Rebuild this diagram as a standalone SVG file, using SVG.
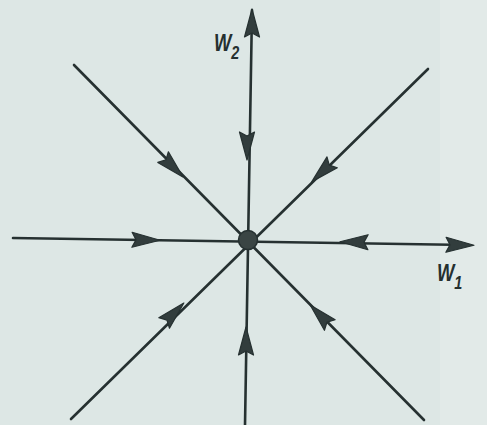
<svg xmlns="http://www.w3.org/2000/svg" width="487" height="425" viewBox="0 0 487 425">
<style>
.ln{stroke:#263131;stroke-width:2.6;fill:none;stroke-linecap:round}
.ah{fill:#323d3d;stroke:#263131;stroke-width:1.2;stroke-linejoin:round}
.lb{font-family:"Liberation Sans",Arial,sans-serif;font-style:italic;font-weight:bold;fill:#253030}
</style>
<defs>
<path id="ah" class="ah" d="M14,0 L-14,-7.5 L-10,0 L-14,7.5 Z"/>
</defs>
<rect width="487" height="425" fill="#dde7e5"/>
<rect x="440" y="0" width="47" height="425" fill="#e2eae8"/>
<g id="connectors">
<line class="ln" x1="252" y1="10" x2="245" y2="425"/>
<line class="ln" x1="13" y1="238" x2="468" y2="245"/>
<line class="ln" x1="74" y1="65" x2="424" y2="420"/>
<line class="ln" x1="428" y1="69" x2="71" y2="419"/>
<use href="#ah" transform="translate(252,23) rotate(-90)"/>
<use href="#ah" transform="translate(460,245) rotate(0.9)"/>
<use href="#ah" transform="translate(173,167) rotate(45)"/>
<use href="#ah" transform="translate(247,146) rotate(90)"/>
<use href="#ah" transform="translate(322,172) rotate(136.5)"/>
<use href="#ah" transform="translate(146,240) rotate(0.9)"/>
<use href="#ah" transform="translate(354,242) rotate(180.9)"/>
<use href="#ah" transform="translate(174,313) rotate(-45.3)"/>
<use href="#ah" transform="translate(246,341) rotate(-90)"/>
<use href="#ah" transform="translate(320,315) rotate(-134.4)"/>
</g>
<g id="origin">
<circle cx="248" cy="240" r="9.5" fill="#3a4544" stroke="#263131" stroke-width="1.5"/>
</g>
<g id="label-w2">
<text class="lb" x="214" y="51" font-size="23" transform="translate(214,0) scale(0.8,1) translate(-214,0)">W<tspan font-size="18" dy="8">2</tspan></text>
</g>
<g id="label-w1">
<text class="lb" x="437" y="281" font-size="23" transform="translate(437,0) scale(0.8,1) translate(-437,0)">W<tspan font-size="18" dy="8">1</tspan></text>
</g>
</svg>
